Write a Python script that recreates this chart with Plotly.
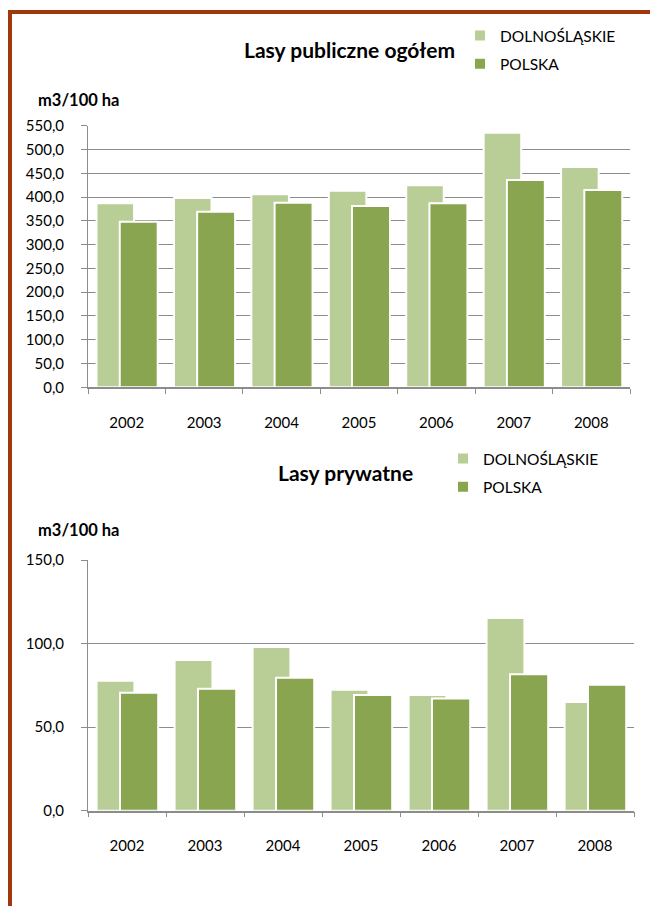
import plotly.graph_objects as go

years = ["2002", "2003", "2004", "2005", "2006", "2007", "2008"]
public_dol = [387, 398, 406, 413, 425, 535, 463]
public_pol = [348, 369, 388, 381, 387, 436, 415]
private_dol = [77.7, 90.2, 98.0, 72.3, 69.3, 115.3, 65.1]
private_pol = [70.5, 72.9, 79.5, 69.3, 67.1, 81.7, 75.3]
series_names = ["DOLNOŚLĄSKIE", "POLSKA"]
title_top = "Lasy publiczne ogółem"
title_bottom = "Lasy prywatne"
unit_label = "m3/100 ha"
top_ticks = [0, 50, 100, 150, 200, 250, 300, 350, 400, 450, 500, 550]
bottom_ticks = [0, 50, 100, 150]

W, H = 650, 906
C_LIGHT = "#B9CD96"
C_DARK = "#8AA550"
GRID = "#8C8C8C"
FONT = "Lato"

def px(x):
    return x / W

def py(y):
    return 1 - y / H

fig = go.Figure()

def add_pair(xa, ya, dol, pol, legend):
    fig.add_trace(go.Bar(x=years, y=dol, name=series_names[0], marker=dict(color=C_LIGHT, line=dict(color="white", width=2)),
                         offset=-0.39, width=0.485, xaxis=xa, yaxis=ya, legend=legend, legendgroup=legend + "a"))
    fig.add_trace(go.Bar(x=years, y=pol, name=series_names[1], marker=dict(color=C_DARK, line=dict(color="white", width=2)),
                         offset=-0.09, width=0.49, xaxis=xa, yaxis=ya, legend=legend, legendgroup=legend + "b"))

add_pair("x", "y", public_dol, public_pol, "legend")
add_pair("x2", "y2", private_dol, private_pol, "legend2")

axis_font = dict(family=FONT, size=15, color="#000000")

def yaxis_cfg(domain, rng, ticks):
    return dict(domain=domain, range=rng, tickvals=ticks, tickformat=".1f", automargin=False,
                showgrid=True, gridcolor=GRID, gridwidth=1, showline=True, linecolor=GRID, linewidth=1,
                ticks="outside", ticklen=6, tickcolor=GRID, tickfont=axis_font, ticklabelstandoff=14,
                zeroline=False, fixedrange=True)

def xaxis_cfg(domain, anchor):
    return dict(domain=domain, anchor=anchor, type="category", showline=True, linecolor=GRID, linewidth=1.5,
                ticks="outside", tickson="boundaries", ticklen=5, tickcolor=GRID, tickfont=axis_font,
                automargin=False, ticklabelstandoff=21, showgrid=False, fixedrange=True)

legend_font = dict(family=FONT, size=15.5, color="#000000")

fig.update_layout(
    width=W, height=H,
    margin=dict(l=0, r=0, t=0, b=0, autoexpand=False),
    paper_bgcolor="white", plot_bgcolor="white",
    barmode="overlay",
    separators=", ",
    font=dict(family=FONT, size=14, color="#000000"),
    xaxis=xaxis_cfg([px(88), px(630)], "y"),
    yaxis=yaxis_cfg([py(387.3), py(125.7)], [0, 550], top_ticks),
    xaxis2=xaxis_cfg([px(88), px(634)], "y2"),
    yaxis2=yaxis_cfg([py(810.7), py(560)], [0, 150], bottom_ticks),
    legend=dict(x=px(460), y=py(19), xanchor="left", yanchor="top", traceorder="grouped", tracegroupgap=5,
                font=legend_font, itemwidth=30, bgcolor="rgba(0,0,0,0)"),
    legend2=dict(x=px(443), y=py(442), xanchor="left", yanchor="top", traceorder="grouped", tracegroupgap=5,
                 font=legend_font, itemwidth=30, bgcolor="rgba(0,0,0,0)"),
    showlegend=True,
)

ann_title = dict(family=FONT, size=21, color="#000000")
ann_unit = dict(family=FONT, size=16.5, color="#000000")
fig.add_annotation(text="<b>" + title_top + "</b>", x=px(349), y=py(50), xref="paper", yref="paper",
                   showarrow=False, font=ann_title, xanchor="center", yanchor="middle")
fig.add_annotation(text="<b>" + unit_label + "</b>", x=px(36), y=py(100), xref="paper", yref="paper",
                   showarrow=False, font=ann_unit, xanchor="left", yanchor="middle")
fig.add_annotation(text="<b>" + title_bottom + "</b>", x=px(345), y=py(472), xref="paper", yref="paper",
                   showarrow=False, font=ann_title, xanchor="center", yanchor="middle")
fig.add_annotation(text="<b>" + unit_label + "</b>", x=px(36), y=py(530), xref="paper", yref="paper",
                   showarrow=False, font=ann_unit, xanchor="left", yanchor="middle")

# page border (left and top)
BORDER = "#A0380C"
fig.add_shape(type="rect", xref="paper", yref="paper", x0=px(8), x1=px(12), y0=0, y1=py(10),
              fillcolor=BORDER, line=dict(width=0), layer="above")
fig.add_shape(type="rect", xref="paper", yref="paper", x0=px(8), x1=1, y0=py(14), y1=py(10),
              fillcolor=BORDER, line=dict(width=0), layer="above")

fig.write_html("out.html", config={"displayModeBar": False},
               post_script="document.body.style.margin='0';document.body.style.overflow='hidden';")
